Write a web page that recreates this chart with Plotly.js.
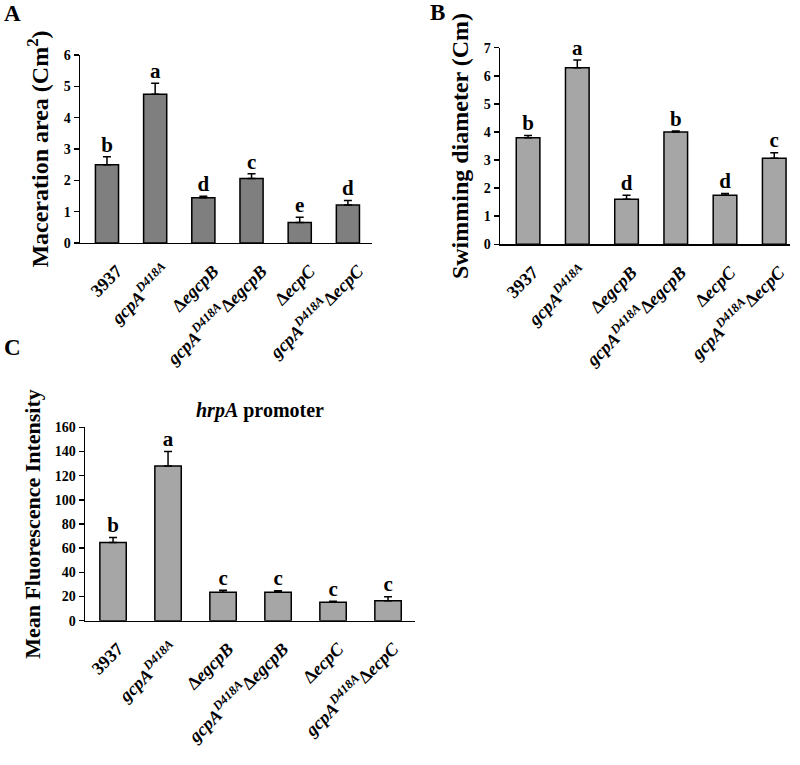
<!DOCTYPE html>
<html>
<head>
<meta charset="utf-8">
<script src="https://cdn.plot.ly/plotly-3.0.1.min.js"></script>
<style>
  html, body { margin: 0; padding: 0; background: #fff; }
  #chart { width: 800px; height: 765px; }
</style>
</head>
<body>
<div id="chart"></div>
<script>
// strain names (x categories), shared by the three panels
var strains = [
	'<b>3937</b>',
	'<b><i>gcpA</i><sup><i>D418A</i></sup></b>',
	'<b>Δ<i>egcpB</i></b>',
	'<b><i>gcpA</i><sup><i>D418A</i></sup>Δ<i>egcpB</i></b>',
	'<b>Δ<i>ecpC</i></b>',
	'<b><i>gcpA</i><sup><i>D418A</i></sup>Δ<i>ecpC</i></b>'
];
var idx = [0, 1, 2, 3, 4, 5];

// A: maceration area
var macValues = [2.5, 4.75, 1.44, 2.06, 0.65, 1.21];
var macErrors = [0.25, 0.35, 0.05, 0.15, 0.17, 0.15];
var macLetters = ['b', 'a', 'd', 'c', 'e', 'd'];
var macTicks = [0, 1, 2, 3, 4, 5, 6];

// B: swimming diameter
var swimValues = [3.79, 6.29, 1.6, 4.0, 1.75, 3.06];
var swimErrors = [0.08, 0.27, 0.15, 0.03, 0.06, 0.2];
var swimLetters = ['b', 'a', 'd', 'b', 'd', 'c'];
var swimTicks = [0, 1, 2, 3, 4, 5, 6, 7];

// C: hrpA promoter fluorescence
var mfiValues = [64.8, 128, 23.5, 23.5, 15.2, 16.5];
var mfiErrors = [4, 12, 1.8, 1.3, 1, 3.4];
var mfiLetters = ['b', 'a', 'c', 'c', 'c', 'c'];
var mfiTicks = [0, 20, 40, 60, 80, 100, 120, 140, 160];

var serif = 'Liberation Serif, Times New Roman, serif';

function zeros(n) { var z = []; for (var i = 0; i < n; i++) z.push(0); return z; }

function barTrace(vals, errs, color, xa, ya)
{
	return {
		type: 'bar',
		x: idx,
		y: vals,
		xaxis: xa,
		yaxis: ya,
		width: 0.48,
		marker: { color: color, line: { color: '#000', width: 1.5 } },
		error_y: {
			type: 'data',
			symmetric: false,
			array: errs,
			arrayminus: zeros(errs.length),
			color: '#000',
			thickness: 1.5,
			width: 4
		},
		hoverinfo: 'none'
	};
}

function letterTrace(vals, errs, letters, xa, ya)
{
	return {
		type: 'scatter',
		mode: 'text',
		x: idx,
		y: vals.map(function (v, i) { return v + errs[i]; }),
		text: letters.map(function (l) { return '<b>' + l + '</b>'; }),
		textposition: 'top center',
		textfont: { family: serif, size: 21, color: '#000' },
		xaxis: xa,
		yaxis: ya,
		cliponaxis: false,
		hoverinfo: 'none'
	};
}

var data = [
	barTrace(macValues, macErrors, '#7f7f7f', 'x', 'y'),
	letterTrace(macValues, macErrors, macLetters, 'x', 'y'),
	barTrace(swimValues, swimErrors, '#a6a6a6', 'x2', 'y2'),
	letterTrace(swimValues, swimErrors, swimLetters, 'x2', 'y2'),
	barTrace(mfiValues, mfiErrors, '#a6a6a6', 'x3', 'y3'),
	letterTrace(mfiValues, mfiErrors, mfiLetters, 'x3', 'y3')
];

function xAxis(domain, range, anchor, shift)
{
	return {
		domain: domain,
		range: range,
		anchor: anchor,
		tickmode: 'array',
		tickvals: idx,
		ticktext: strains,
		tickangle: -45,
		ticks: '',
		ticklabelshift: shift,
		ticklabelstandoff: 9,
		showline: true,
		linecolor: '#000',
		linewidth: 1.5,
		showgrid: false,
		zeroline: false,
		tickfont: { family: serif, size: 18, color: '#000' }
	};
}

function yAxis(domain, range, ticks, anchor, title, tsize)
{
	return {
		domain: domain,
		range: range,
		anchor: anchor,
		tickmode: 'array',
		tickvals: ticks,
		ticktext: ticks.map(function (t) { return '<b>' + t + '</b>'; }),
		ticks: 'outside',
		ticklen: 5,
		tickwidth: 1.5,
		tickcolor: '#000',
		showline: true,
		linecolor: '#000',
		linewidth: 1.5,
		showgrid: false,
		zeroline: false,
		tickfont: { family: serif, size: 14, color: '#000' },
		title: { text: '<b>' + title + '</b>', font: { family: serif, size: tsize, color: '#000' }, standoff: 8 }
	};
}

var layout = {
	width: 800,
	height: 765,
	margin: { l: 0, r: 0, t: 0, b: 0 },
	paper_bgcolor: '#fff',
	plot_bgcolor: '#fff',
	showlegend: false,
	bargap: 0.5,
	xaxis: xAxis([0.1, 0.465], [-0.56, 5.5], 'y', 10),
	yaxis: yAxis([0.6824, 0.928], [0, 6], macTicks, 'x', 'Maceration area (Cm<sup>2</sup>)', 24),
	xaxis2: xAxis([0.625, 0.9875], [-0.57, 5.32], 'y2', 5),
	yaxis2: yAxis([0.6807, 0.9376], [0, 7], swimTicks, 'x2', 'Swimming diameter (Cm)', 24),
	xaxis3: xAxis([0.10625, 0.51875], [-0.51, 5.49], 'y3', 5),
	yaxis3: yAxis([0.1886, 0.4414], [0, 160], mfiTicks, 'x3', 'Mean Fluorescence Intensity', 22),
	annotations: [
		{ text: '<b>A</b>', x: 0.015, y: 0.983, xref: 'paper', yref: 'paper', xanchor: 'center', yanchor: 'middle',
		  showarrow: false, font: { family: serif, size: 23, color: '#000' } },
		{ text: '<b>B</b>', x: 0.547, y: 0.984, xref: 'paper', yref: 'paper', xanchor: 'center', yanchor: 'middle',
		  showarrow: false, font: { family: serif, size: 23, color: '#000' } },
		{ text: '<b>C</b>', x: 0.015, y: 0.546, xref: 'paper', yref: 'paper', xanchor: 'center', yanchor: 'middle',
		  showarrow: false, font: { family: serif, size: 23, color: '#000' } },
		{ text: '<b><i>hrpA</i> promoter</b>', x: 0.325, y: 0.463, xref: 'paper', yref: 'paper',
		  xanchor: 'center', yanchor: 'middle', showarrow: false, font: { family: serif, size: 20, color: '#000' } }
	]
};

Plotly.newPlot('chart', data, layout, { staticPlot: true });
</script>
</body>
</html>
